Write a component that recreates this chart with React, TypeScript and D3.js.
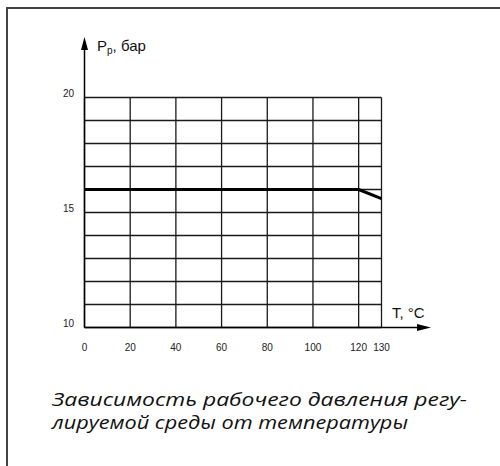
import * as d3 from 'd3';

// tick labels on the temperature axis (°C)
const tempTicks = [0, 20, 40, 60, 80, 100, 120, 130];
// horizontal grid lines, one per bar
const pressureGrid = [10, 11, 12, 13, 14, 15, 16, 17, 18, 19, 20];
const pressureLabels = [10, 15, 20];

// working pressure vs. temperature
const seriesT = [0, 120, 130];
const seriesP = [16, 16, 15.6];

const captionLines = [
  'Зависимость рабочего давления регу-',
  'лируемой среды от температуры',
];
const captionWidths = [415, 356];

const width = 500;
const height = 466;

const App = () => {
  const x = d3.scaleLinear().domain([0, 130]).range([84.5, 381.5]);
  const y = d3.scaleLinear().domain([10, 20]).range([327.5, 97.5]);

  const line = d3
    .line<number>()
    .x((d) => x(seriesT[d]))
    .y((d) => y(seriesP[d]));

  const gridColor = '#1a1a1a';
  const labelFont = '"Liberation Sans", Arial, sans-serif';

  return (
    <svg
      width={width}
      height={height}
      style={{ position: 'absolute', left: 0, top: 0, background: '#fff' }}
    >
      {/* frame */}
      <path d={`M7,${height} V8 H${width}`} fill="none" stroke="#444" strokeWidth={2} />

      {/* horizontal grid */}
      {pressureGrid.map((p) => (
        <line
          key={'h' + p}
          x1={x(0)}
          x2={x(130)}
          y1={y(p)}
          y2={y(p)}
          stroke={gridColor}
          strokeWidth={1.3}
        />
      ))}
      {/* vertical grid */}
      {tempTicks.map((t) => (
        <line
          key={'v' + t}
          x1={x(t)}
          x2={x(t)}
          y1={y(10)}
          y2={y(20)}
          stroke={gridColor}
          strokeWidth={1.3}
        />
      ))}

      {/* axes with arrows */}
      <line x1={x(0)} x2={x(0)} y1={y(10)} y2={44} stroke="#000" strokeWidth={1.5} />
      <path d={`M${x(0)},37 L${x(0) - 3.5},50 L${x(0) + 3.5},50 Z`} fill="#000" />
      <line x1={x(0)} x2={424} y1={y(10)} y2={y(10)} stroke="#000" strokeWidth={1.5} />
      <path d={`M431,${y(10)} L417,${y(10) - 3.5} L417,${y(10) + 3.5} Z`} fill="#000" />

      {/* data line */}
      <path
        d={line(seriesT.map((_, i) => i)) || ''}
        fill="none"
        stroke="#000"
        strokeWidth={3}
        strokeLinejoin="round"
      />

      {/* tick labels */}
      {tempTicks.map((t) => (
        <text
          key={'tl' + t}
          x={x(t)}
          y={351}
          textAnchor="middle"
          fontFamily={labelFont}
          fontSize={10}
          fill="#222"
        >
          {t}
        </text>
      ))}
      {pressureLabels.map((p) => (
        <text
          key={'pl' + p}
          x={74}
          y={y(p) - 0.5}
          textAnchor="end"
          fontFamily={labelFont}
          fontSize={10}
          fill="#222"
        >
          {p}
        </text>
      ))}

      {/* axis titles */}
      <text x={97} y={51} fontFamily={labelFont} fontSize={15} fill="#111">
        P<tspan fontSize={10} dy={3}>p</tspan>
        <tspan dy={-3}>, бар</tspan>
      </text>
      <text x={392} y={318} fontFamily={labelFont} fontSize={15} fill="#111">
        T, °C
      </text>

      {/* caption */}
      {captionLines.map((s, i) => (
        <text
          key={'c' + i}
          x={52}
          y={406 + i * 23}
          fontFamily='"Open Sans", sans-serif'
          fontStyle="italic"
          fontSize={18}
          textLength={captionWidths[i]}
          lengthAdjust="spacingAndGlyphs"
          fill="#111"
        >
          {s}
        </text>
      ))}
    </svg>
  );
};

export default App;
